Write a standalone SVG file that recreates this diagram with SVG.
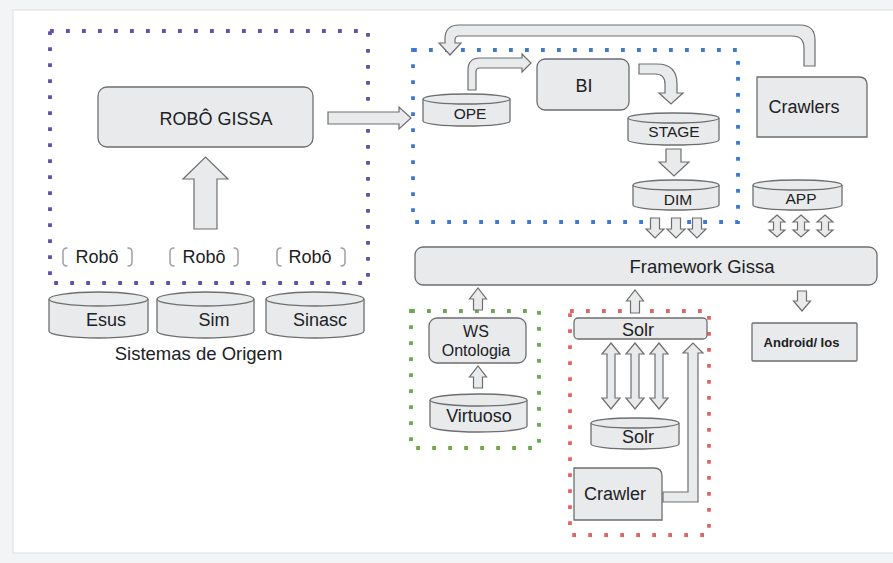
<svg xmlns="http://www.w3.org/2000/svg" width="893" height="563" viewBox="0 0 893 563">
  <style>
    .shape { fill: #e8eaeb; stroke: #6e6e6e; stroke-width: 1.3; }
    .arrow { fill: #e8eaeb; stroke: #6e6e6e; stroke-width: 1.2; stroke-linejoin: miter; }
    .lbl { font-family: "Liberation Sans", Arial, sans-serif; fill: #202124; text-anchor: middle; }
    .bracket { fill: none; stroke: #a0a0a0; stroke-width: 1.5; stroke-linecap: round; }
    .dots { fill: none; stroke-width: 3.8; stroke-dasharray: 3.8 12.2; }
  </style>

  <!-- page frame -->
  <rect x="0" y="0" width="893" height="563" fill="#f3f4f6"/>
  <rect x="13" y="10" width="890" height="543" fill="#ffffff" stroke="#dcdee1" stroke-width="1"/>

  <!-- group outlines -->
  <g id="groups">
    <rect class="dots" x="50" y="31" width="318" height="252" stroke="#674ea7"/>
    <rect class="dots" x="413" y="50" width="325" height="172" stroke="#3c78d8"/>
    <rect class="dots" x="411" y="311" width="128" height="137" stroke="#6aa84f"/>
    <rect class="dots" x="570" y="311" width="139" height="224" stroke="#e06666"/>
  </g>

  <!-- connectors -->
  <g id="connectors">
    <!-- Robô inputs up to ROBÔ GISSA -->
    <path class="arrow" d="M194,229 V179 H183 L205.5,157 L228,179 H217 V229 Z"/>
    <!-- ROBÔ GISSA to OPE -->
    <path class="arrow" d="M328,112 H399 V107 L411,118 L399,129 V124 H328 Z"/>
    <!-- Crawlers back to the BI area -->
    <path class="arrow" d="M804,66 V48 Q804,36 792,36 H459 Q455,36 455,40 V43 H461 L450,55 L439,43 H445 V39 Q445,25 459,25 H800 Q815,25 815,40 V66 Z"/>
    <!-- OPE to BI -->
    <path class="arrow" d="M468,90 V70 Q468,58 480,58 H522 V54 L531,63 L522,72 V68 H480 Q476,68 476,72 V90 Z"/>
    <!-- BI to STAGE -->
    <path class="arrow" d="M639,64 H657 Q677,64 677,84 V93 H683 L671,104 L659,93 H665 V84 Q665,74 655,74 H639 Z"/>
    <!-- STAGE to DIM -->
    <path class="arrow" d="M666,149 H681 V162 H689 L674,176 L659,162 H666 Z"/>
    <!-- DIM to Framework -->
    <path class="arrow" d="M650.5,218 H659.5 V229 H664 L655,238 L646,229 H650.5 Z"/>
    <path class="arrow" d="M671.5,218 H680.5 V229 H685 L676,238 L667,229 H671.5 Z"/>
    <path class="arrow" d="M692.5,218 H701.5 V229 H706 L697,238 L688,229 H692.5 Z"/>
    <!-- APP to Framework (two-way) -->
    <path class="arrow" d="M777,215 L785,222 H780.5 V230 H785 L777,237 L769,230 H773.5 V222 H769 Z"/>
    <path class="arrow" d="M801,215 L809,222 H804.5 V230 H809 L801,237 L793,230 H797.5 V222 H793 Z"/>
    <path class="arrow" d="M825,215 L833,222 H828.5 V230 H833 L825,237 L817,230 H821.5 V222 H817 Z"/>
    <!-- WS Ontologia to Framework -->
    <path class="arrow" d="M473.5,310 V299 H469.5 L478,288 L486.5,299 H482.5 V310 Z"/>
    <!-- Solr to Framework -->
    <path class="arrow" d="M630.5,313 V301 H626.5 L635,290 L643.5,301 H639.5 V313 Z"/>
    <!-- Framework to Android/ Ios -->
    <path class="arrow" d="M797.5,291 H806.5 V301 H810.5 L802,311 L793.5,301 H797.5 Z"/>
    <!-- Virtuoso to WS Ontologia -->
    <path class="arrow" d="M473.5,388 V377 H469.5 L478,366 L486.5,377 H482.5 V388 Z"/>
    <!-- Solr index to Solr service (two-way) -->
    <path class="arrow" d="M611,343 L620,354 H615 V398 H620 L611,409 L602,398 H607 V354 H602 Z"/>
    <path class="arrow" d="M635,343 L644,354 H639 V398 H644 L635,409 L626,398 H631 V354 H626 Z"/>
    <path class="arrow" d="M659,343 L668,354 H663 V398 H668 L659,409 L650,398 H655 V354 H650 Z"/>
    <!-- Crawler to Solr -->
    <path class="arrow" d="M663,492 H688 V353 H683 L693,343 L703,353 H698 V502 H663 Z"/>
  </g>

  <!-- nodes -->
  <g id="robo-gissa">
    <rect class="shape" x="98" y="87" width="215" height="60" rx="9"/>
    <text class="lbl" x="216" y="125" font-size="18">ROBÔ GISSA</text>
  </g>

  <g id="robo-1">
    <path class="bracket" d="M67,248 Q63,248 63,252 V262 Q63,266 67,266"/>
    <path class="bracket" d="M128,248 Q132,248 132,252 V262 Q132,266 128,266"/>
    <text class="lbl" x="97" y="263" font-size="18">Robô</text>
  </g>
  <g id="robo-2">
    <path class="bracket" d="M174,248 Q170,248 170,252 V262 Q170,266 174,266"/>
    <path class="bracket" d="M234,248 Q238,248 238,252 V262 Q238,266 234,266"/>
    <text class="lbl" x="204" y="263" font-size="18">Robô</text>
  </g>
  <g id="robo-3">
    <path class="bracket" d="M281,248 Q277,248 277,252 V262 Q277,266 281,266"/>
    <path class="bracket" d="M341,248 Q345,248 345,252 V262 Q345,266 341,266"/>
    <text class="lbl" x="310" y="263" font-size="18">Robô</text>
  </g>

  <g id="esus">
    <path class="shape" d="M49,299 A49.5,7 0 0 1 148,299 V331 A49.5,7 0 0 1 49,331 Z"/>
    <path class="shape" d="M49,299 A49.5,7 0 0 0 148,299"/>
    <text class="lbl" x="106" y="326" font-size="18">Esus</text>
  </g>
  <g id="sim">
    <path class="shape" d="M157,299 A48.5,7 0 0 1 254,299 V331 A48.5,7 0 0 1 157,331 Z"/>
    <path class="shape" d="M157,299 A48.5,7 0 0 0 254,299"/>
    <text class="lbl" x="214" y="326" font-size="18">Sim</text>
  </g>
  <g id="sinasc">
    <path class="shape" d="M266,299 A49,7 0 0 1 364,299 V331 A49,7 0 0 1 266,331 Z"/>
    <path class="shape" d="M266,299 A49,7 0 0 0 364,299"/>
    <text class="lbl" x="320" y="326" font-size="18">Sinasc</text>
  </g>
  <g id="sistemas-label">
    <text class="lbl" x="198.5" y="360" font-size="18.5">Sistemas de Origem</text>
  </g>

  <g id="ope">
    <path class="shape" d="M423,99 A43.5,5 0 0 1 510,99 V121 A43.5,5 0 0 1 423,121 Z"/>
    <path class="shape" d="M423,99 A43.5,5 0 0 0 510,99"/>
    <text class="lbl" x="470" y="119" font-size="15.5">OPE</text>
  </g>
  <g id="bi">
    <rect class="shape" x="537" y="59" width="92" height="51" rx="8"/>
    <text class="lbl" x="584" y="92" font-size="18">BI</text>
  </g>
  <g id="stage">
    <path class="shape" d="M628,118 A45.5,5 0 0 1 719,118 V140 A45.5,5 0 0 1 628,140 Z"/>
    <path class="shape" d="M628,118 A45.5,5 0 0 0 719,118"/>
    <text class="lbl" x="674" y="137" font-size="15.5">STAGE</text>
  </g>
  <g id="dim">
    <path class="shape" d="M633,185 A43,5 0 0 1 719,185 V205 A43,5 0 0 1 633,205 Z"/>
    <path class="shape" d="M633,185 A43,5 0 0 0 719,185"/>
    <text class="lbl" x="678" y="205" font-size="15.5">DIM</text>
  </g>
  <g id="crawlers">
    <path class="shape" d="M757,77 H859 Q867,77 867,85 V137 H757 Z"/>
    <text class="lbl" x="804" y="113" font-size="18">Crawlers</text>
  </g>
  <g id="app">
    <path class="shape" d="M753,185 A44.5,5 0 0 1 842,185 V205 A44.5,5 0 0 1 753,205 Z"/>
    <path class="shape" d="M753,185 A44.5,5 0 0 0 842,185"/>
    <text class="lbl" x="801" y="204" font-size="15.5">APP</text>
  </g>
  <g id="framework-gissa">
    <rect class="shape" x="415" y="247" width="462" height="38" rx="8"/>
    <text class="lbl" x="702" y="273" font-size="18.5">Framework Gissa</text>
  </g>
  <g id="ws-ontologia">
    <rect class="shape" x="429" y="318" width="97" height="45" rx="8"/>
    <text class="lbl" x="476" y="337" font-size="16">WS</text>
    <text class="lbl" x="476" y="356" font-size="16">Ontologia</text>
  </g>
  <g id="virtuoso">
    <path class="shape" d="M430,400 A48.5,6 0 0 1 527,400 V426 A48.5,6 0 0 1 430,426 Z"/>
    <path class="shape" d="M430,400 A48.5,6 0 0 0 527,400"/>
    <text class="lbl" x="479" y="422" font-size="18">Virtuoso</text>
  </g>
  <g id="solr-service">
    <rect class="shape" x="574" y="318" width="133" height="21" rx="4"/>
    <text class="lbl" x="638" y="336" font-size="18">Solr</text>
  </g>
  <g id="solr-index">
    <path class="shape" d="M591,423 A44,5 0 0 1 679,423 V444 A44,5 0 0 1 591,444 Z"/>
    <path class="shape" d="M591,423 A44,5 0 0 0 679,423"/>
    <text class="lbl" x="638" y="443" font-size="18">Solr</text>
  </g>
  <g id="crawler">
    <path class="shape" d="M574,468 H654 Q662,468 662,476 V520 H574 Z"/>
    <text class="lbl" x="615" y="500" font-size="18">Crawler</text>
  </g>
  <g id="android-ios">
    <rect class="shape" x="752" y="323" width="105" height="38" rx="1"/>
    <text class="lbl" x="801.5" y="347" font-size="13" font-weight="bold">Android/ Ios</text>
  </g>
</svg>
